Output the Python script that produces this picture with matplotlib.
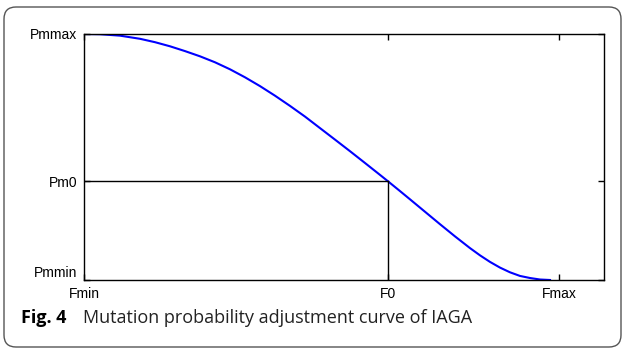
import matplotlib
matplotlib.use('Agg')
import matplotlib.pyplot as plt
from matplotlib.patches import FancyBboxPatch

plt.rcParams.update({
    'font.family': 'Liberation Sans',
    'font.size': 10,
})

# curve (fitness -> mutation probability, normalised)
fitness = [0, 0.0337, 0.0758, 0.1179, 0.1495, 0.1811, 0.2126, 0.2442,
           0.2758, 0.3074, 0.3389, 0.3705, 0.4021, 0.4337, 0.4653, 0.4968,
           0.5284, 0.5600, 0.5916, 0.6232, 0.64, 0.6653, 0.6863, 0.7179,
           0.7495, 0.7811, 0.8126, 0.8337, 0.8547, 0.8758, 0.8968, 0.9179,
           0.9389, 0.96, 0.9811]
prob = [1.0, 0.999, 0.9933, 0.9805, 0.9667, 0.9500, 0.9305, 0.9093,
        0.8850, 0.8565, 0.8240, 0.7882, 0.7492, 0.7077, 0.6642, 0.6175,
        0.5707, 0.5236, 0.4756, 0.4272, 0.4012, 0.3614, 0.3280, 0.2774,
        0.2268, 0.1772, 0.1297, 0.1002, 0.0736, 0.0504, 0.0313, 0.0165,
        0.0081, 0.002, 0.0]
F0 = 0.64
PM0 = 0.401
x_ticks = [0, F0, 1.0]
x_labels = ['Fmin', 'F0', 'Fmax']
y_ticks = [0, PM0, 1.0]
y_labels = ['Pmmin', 'Pm0', 'Pmmax']

fig = plt.figure(figsize=(6.22, 3.49), dpi=100)

# rounded frame around the figure + caption
frame = FancyBboxPatch((0.04, 0.02), 6.17, 3.40,
                       boxstyle='round,pad=0,rounding_size=0.12',
                       transform=fig.dpi_scale_trans, fill=False,
                       edgecolor='#555555', linewidth=1.0)
fig.patches.append(frame)
fig.text(0.21 / 6.22, 0.26 / 3.49, 'Fig. 4', fontfamily='Open Sans',
         fontweight='bold', fontsize=13, va='baseline', ha='left')
fig.text(0.83 / 6.22, 0.26 / 3.49, 'Mutation probability adjustment curve of IAGA',
         fontfamily='Open Sans', fontsize=13, va='baseline', ha='left',
         color='#222222')

ax = fig.add_axes([84 / 622, 1 - 280 / 349, 520 / 622, 246 / 349])
ax.plot(fitness, prob, color='#0000ff', linewidth=1.5)
ax.plot([0, F0], [PM0, PM0], color='black', linewidth=1.0)
ax.plot([F0, F0], [0, PM0], color='black', linewidth=1.0)

ax.set_xlim(0, 520 / 475)
ax.set_ylim(0, 1)
ax.set_xticks(x_ticks)
ax.set_xticklabels(x_labels)
ax.set_yticks(y_ticks)
ax.set_yticklabels(y_labels)
ax.get_yticklabels()[0].set_va('bottom')
ax.tick_params(direction='in', length=4, width=1, top=True, right=True,
               labelsize=10, pad=5)
for s in ax.spines.values():
    s.set_linewidth(1.0)

plt.savefig('out.png', dpi=100)
plt.close()
